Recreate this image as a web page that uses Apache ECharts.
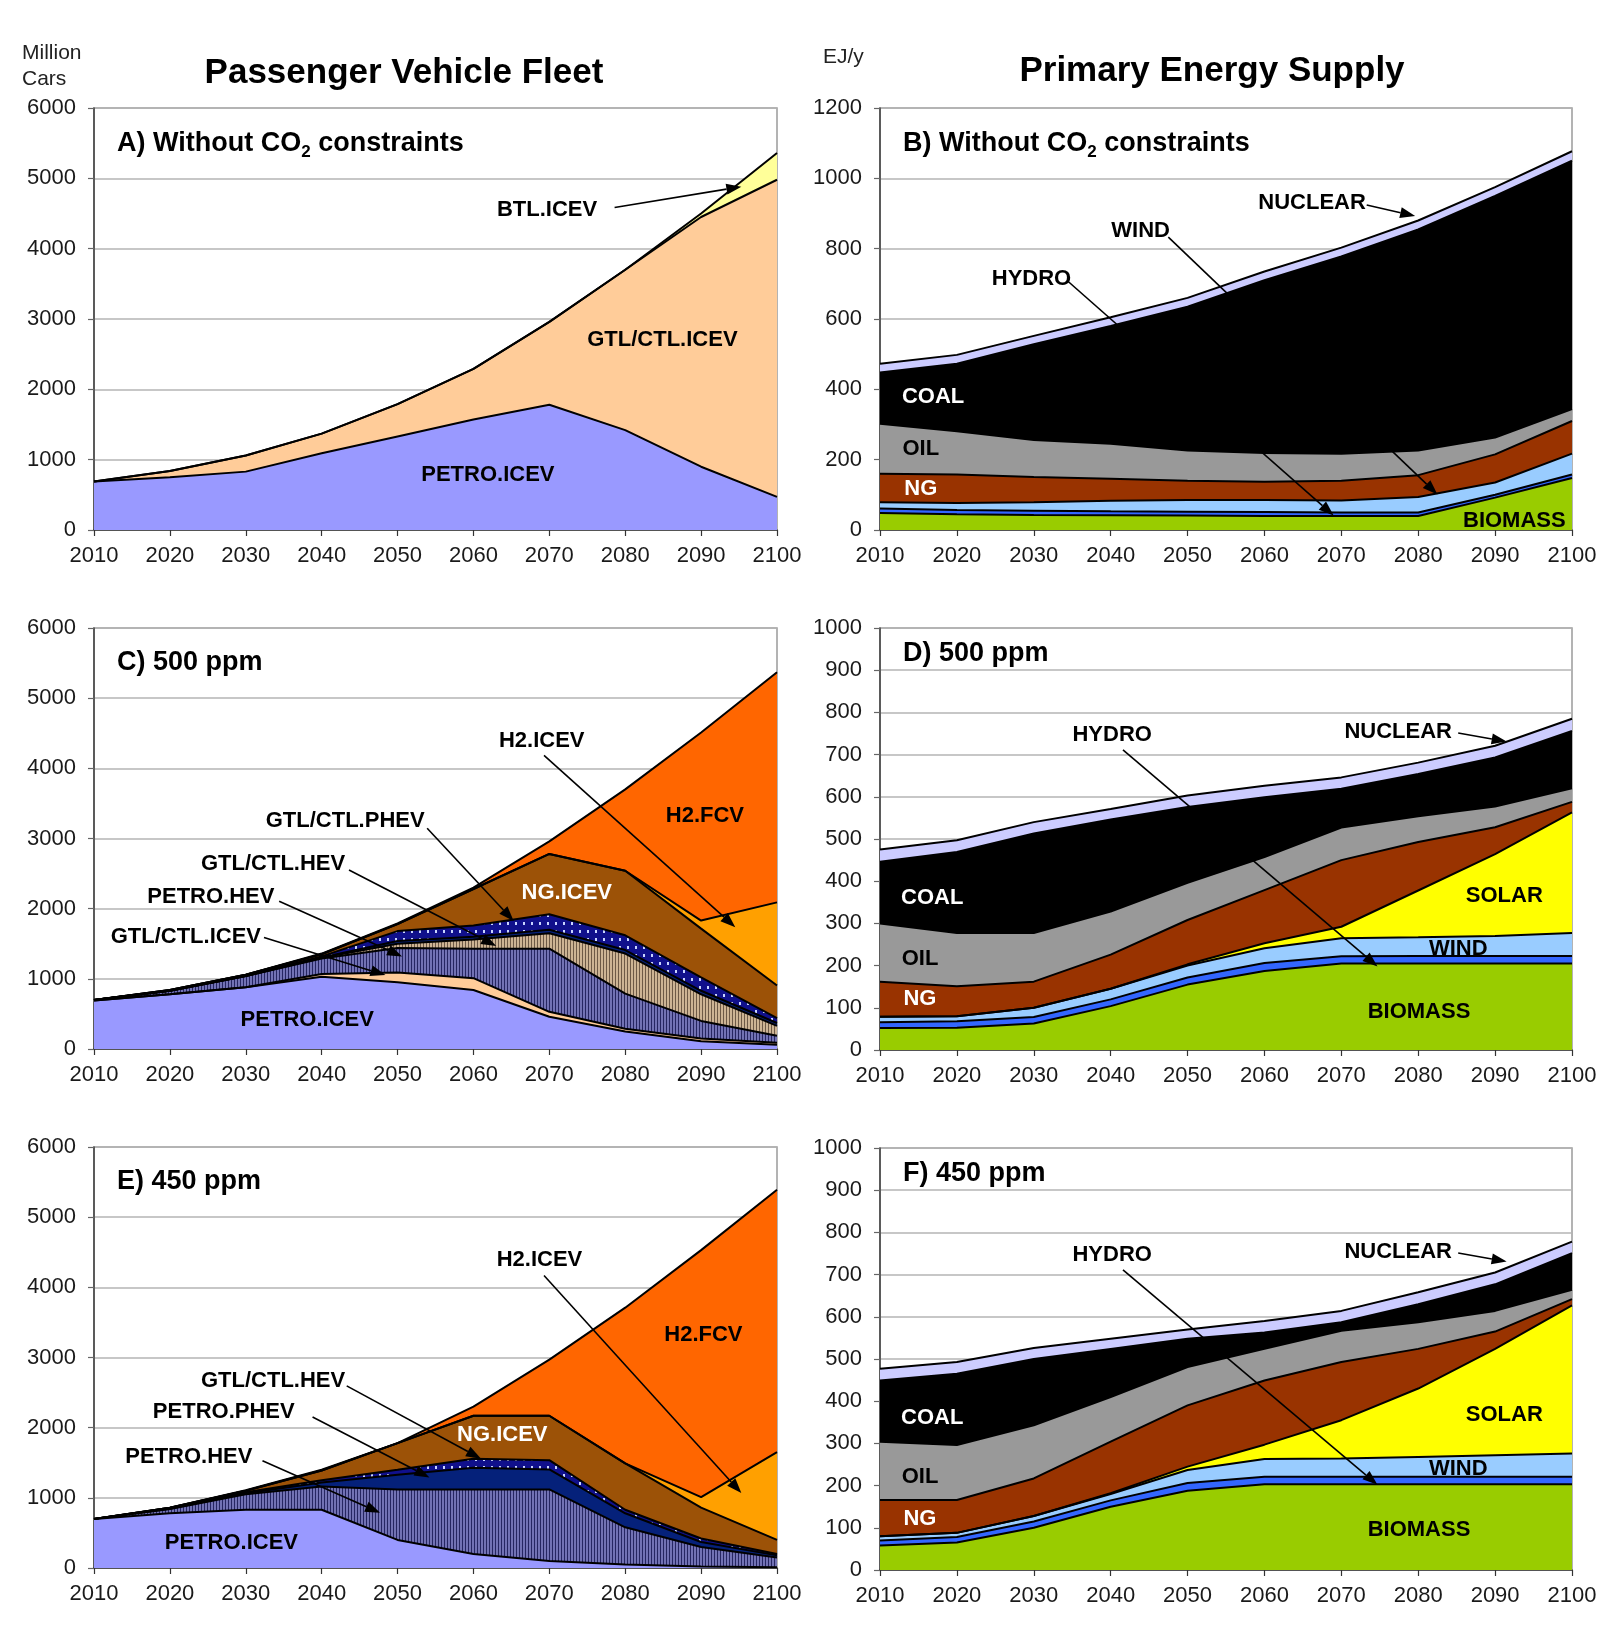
<!DOCTYPE html>
<html><head><meta charset="utf-8">
<script src="https://cdn.jsdelivr.net/npm/echarts/dist/echarts.min.js"></script>
<style>html,body{margin:0;padding:0;background:#fff}#c{width:1622px;height:1639px}</style>
</head><body><div id="c"></div>
<script>
// ---------- DATA ----------
const years = [2010, 2020, 2030, 2040, 2050, 2060, 2070, 2080, 2090, 2100];

// A) Passenger vehicle fleet, without CO2 constraints (million cars)
const A_petroICEV = [690, 750, 830, 1090, 1330, 1570, 1780, 1420, 900, 470];
const A_gtlICEV   = [0, 90, 230, 280, 460, 720, 1180, 2280, 3550, 4510];
const A_btlICEV   = [0, 0, 0, 0, 0, 0, 0, 0, 50, 380];

// B) Primary energy supply, without CO2 constraints (EJ/y)
const B_biomass = [48, 45, 43, 42, 41, 40, 40, 40, 92, 148];
const B_hydro   = [13, 12, 12, 11, 11, 11, 10, 10, 8, 10];
const B_wind    = [18, 20, 24, 30, 33, 34, 34, 44, 35, 59];
const B_ng      = [81, 81, 72, 63, 55, 52, 56, 62, 80, 93];
const B_oil     = [142, 123, 105, 99, 86, 82, 77, 70, 48, 34];
const B_coal    = [146, 192, 272, 335, 409, 491, 561, 629, 687, 706];
const B_nuclear = [25, 25, 24, 25, 25, 25, 25, 25, 25, 27];

// C) Passenger vehicle fleet, 500 ppm
const C_petroICEV = [690, 780, 880, 1030, 950, 840, 460, 250, 110, 60];
const C_gtlICEV   = [0, 0, 0, 40, 140, 170, 70, 40, 40, 30];
const C_petroHEV  = [10, 50, 160, 220, 350, 420, 900, 500, 250, 100];
const C_gtlHEV    = [0, 0, 0, 10, 60, 130, 220, 570, 380, 140];
const C_petroPHEV = [0, 0, 0, 5, 40, 40, 50, 50, 50, 40];
const C_gtlPHEV   = [0, 0, 5, 15, 140, 160, 220, 210, 190, 70];
const C_ngICEV    = [0, 10, 15, 30, 100, 520, 860, 920, 695, 465];
const C_h2ICEV    = [0, 0, 0, 0, 0, 0, 0, 0, 115, 1185];
const C_h2FCV     = [0, 0, 0, 10, 10, 20, 180, 1160, 2680, 3280];

// D) Primary energy supply, 500 ppm
const D_biomass = [52, 53, 63, 104, 155, 187, 205, 205, 205, 205];
const D_hydro   = [14, 15, 15, 16, 17, 19, 17, 18, 18, 18];
const D_wind    = [13, 12, 22, 25, 28, 35, 43, 44, 47, 54];
const D_solar   = [0, 0, 0, 0, 3, 12, 27, 111, 194, 286];
const D_ng      = [83, 71, 62, 81, 105, 126, 158, 115, 64, 25];
const D_oil     = [138, 126, 115, 102, 88, 78, 77, 61, 49, 32];
const D_coal    = [146, 192, 236, 218, 180, 142, 92, 100, 116, 136];
const D_nuclear = [29, 28, 27, 25, 27, 27, 27, 27, 28, 29];

// E) Passenger vehicle fleet, 450 ppm
const E_petroICEV = [700, 780, 830, 830, 400, 200, 100, 50, 20, 10];
const E_petroHEV  = [0, 60, 220, 330, 720, 920, 1020, 530, 280, 140];
const E_petroPHEV = [0, 5, 15, 60, 210, 309, 285, 200, 70, 30];
const E_gtlHEV    = [0, 10, 15, 30, 70, 127, 132, 50, 50, 20];
const E_ngICEV    = [0, 5, 20, 140, 380, 614, 633, 660, 440, 200];
const E_h2ICEV    = [0, 0, 0, 0, 0, 0, 0, 0, 150, 1250];
const E_h2FCV     = [0, 0, 10, 10, 0, 130, 800, 2220, 3520, 3740];

// F) Primary energy supply, 450 ppm
const F_biomass = [58, 65, 100, 150, 188, 203, 203, 203, 203, 203];
const F_hydro   = [12, 13, 15, 15, 18, 18, 18, 18, 18, 18];
const F_wind    = [10, 10, 13, 15, 31, 42, 43, 47, 51, 55];
const F_solar   = [0, 0, 0, 2, 8, 34, 91, 162, 252, 351];
const F_ng      = [86, 78, 89, 122, 145, 152, 138, 94, 41, 15];
const F_oil     = [138, 130, 126, 106, 91, 75, 74, 63, 49, 22];
const F_coal    = [145, 169, 157, 114, 67, 39, 20, 43, 63, 87];
const F_nuclear = [28, 28, 26, 24, 22, 27, 27, 28, 28, 27];

// Annotations (positions in data units: [year, value])
const annotations = [
  {g:0, t:'BTL.ICEV', at:[2069.7,4555], from:[2078.6,4585], to:[2095.3,4881]},
  {g:0, t:'GTL/CTL.ICEV', at:[2084.9,2700]},
  {g:0, t:'PETRO.ICEV', at:[2061.9,786]},

  {g:1, t:'NUCLEAR', at:[2066.2,930], from:[2073.3,924], to:[2079.6,893]},
  {g:1, t:'WIND', at:[2043.9,850], from:[2047.5,833], to:[2082.5,101]},
  {g:1, t:'HYDRO', at:[2029.7,714], from:[2034.4,708], to:[2069,41]},
  {g:1, t:'COAL', at:[2016.9,379], c:'#fff'},
  {g:1, t:'OIL', at:[2015.3,231]},
  {g:1, t:'NG', at:[2015.3,118], c:'#fff'},
  {g:1, t:'BIOMASS', at:[2092.5,27]},

  {g:2, t:'H2.ICEV', at:[2069,4392], from:[2069.3,4184], to:[2094.5,1736]},
  {g:2, t:'H2.FCV', at:[2090.5,3323]},
  {g:2, t:'GTL/CTL.PHEV', at:[2043.1,3249], from:[2053.9,3145], to:[2065.3,1825]},
  {g:2, t:'GTL/CTL.HEV', at:[2033.6,2641], from:[2043.6,2552], to:[2063,1469]},
  {g:2, t:'PETRO.HEV', at:[2025.4,2166], from:[2034.4,2107], to:[2050.6,1320]},
  {g:2, t:'GTL/CTL.ICEV', at:[2022.1,1602], from:[2032.4,1588], to:[2048.4,1053]},
  {g:2, t:'NG.ICEV', at:[2072.3,2226], c:'#fff'},
  {g:2, t:'PETRO.ICEV', at:[2038.1,415]},

  {g:3, t:'HYDRO', at:[2040.2,746], from:[2041.6,711], to:[2074.7,198]},
  {g:3, t:'NUCLEAR', at:[2077.4,753], from:[2085.2,751], to:[2091.5,731]},
  {g:3, t:'COAL', at:[2016.8,360], c:'#fff'},
  {g:3, t:'OIL', at:[2015.2,215]},
  {g:3, t:'NG', at:[2015.2,121], c:'#fff'},
  {g:3, t:'SOLAR', at:[2091.2,365]},
  {g:3, t:'WIND', at:[2085.2,240]},
  {g:3, t:'BIOMASS', at:[2080.1,91]},

  {g:4, t:'H2.ICEV', at:[2068.7,4392], from:[2069.3,4169], to:[2095.3,1068]},
  {g:4, t:'H2.FCV', at:[2090.3,3323]},
  {g:4, t:'GTL/CTL.HEV', at:[2033.6,2671], from:[2043.3,2596], to:[2061,1558]},
  {g:4, t:'PETRO.PHEV', at:[2027.1,2226], from:[2038.8,2151], to:[2054.2,1291]},
  {g:4, t:'PETRO.HEV', at:[2022.5,1588], from:[2032.2,1528], to:[2047.7,786]},
  {g:4, t:'NG.ICEV', at:[2063.8,1899], c:'#fff'},
  {g:4, t:'PETRO.ICEV', at:[2028.1,356]},

  {g:5, t:'HYDRO', at:[2040.2,746], from:[2041.6,711], to:[2074.7,202]},
  {g:5, t:'NUCLEAR', at:[2077.4,753], from:[2085.2,751], to:[2091.5,731]},
  {g:5, t:'COAL', at:[2016.8,360], c:'#fff'},
  {g:5, t:'OIL', at:[2015.2,220]},
  {g:5, t:'NG', at:[2015.2,121], c:'#fff'},
  {g:5, t:'SOLAR', at:[2091.2,368]},
  {g:5, t:'WIND', at:[2085.2,240]},
  {g:5, t:'BIOMASS', at:[2080.1,94]}
];

// ---------- STYLE HELPERS ----------
function pattern(w, h, draw) {
  const cv = document.createElement('canvas');
  cv.width = w; cv.height = h;
  draw(cv.getContext('2d'));
  return {image: cv, repeat: 'repeat'};
}
const hatchPurple = pattern(3, 8, ctx => {
  ctx.fillStyle = '#7272b4'; ctx.fillRect(0, 0, 3, 8);
  ctx.fillStyle = '#262662'; ctx.fillRect(0, 0, 1, 8);
});
const hatchTan = pattern(3, 8, ctx => {
  ctx.fillStyle = '#cdb494'; ctx.fillRect(0, 0, 3, 8);
  ctx.fillStyle = '#6e5a46'; ctx.fillRect(0, 0, 1, 8);
});
const dotsBlue = pattern(8, 8, ctx => {
  ctx.fillStyle = '#10108c'; ctx.fillRect(0, 0, 8, 8);
  ctx.fillStyle = '#c8d4ff'; ctx.fillRect(3, 2, 2, 3);
});

const COL = {
  petroICEV:'#9999ff', gtlICEV:'#ffcc99', btlICEV:'#ffff99',
  petroPHEV:'#05217a', ngICEV:'#9c5207', h2ICEV:'#ffa000', h2FCV:'#ff6600',
  biomass:'#99cc00', hydro:'#3366ff', wind:'#99ccff', solar:'#ffff00',
  ng:'#993300', oil:'#999999', coal:'#000000', nuclear:'#ccccff'
};

const FONT = '"Liberation Sans", Arial, Helvetica, sans-serif';

function cumulative(list) {
  const out = [];
  let acc = years.map(() => 0);
  list.forEach(a => { acc = acc.map((v, i) => v + a[i]); out.push(acc.slice()); });
  return out;
}
// layers bottom -> top; draw top first so lower layers paint over
function panelSeries(g, layers) {
  const tops = cumulative(layers.map(l => l.data));
  const s = [];
  for (let k = layers.length - 1; k >= 0; k--) {
    s.push({
      type: 'line', name: layers[k].name, xAxisIndex: g, yAxisIndex: g,
      data: years.map((y, i) => [y, tops[k][i]]),
      symbol: 'none', showSymbol: false, silent: true,
      lineStyle: {color: '#000', width: 2},
      areaStyle: {color: layers[k].color, opacity: 1, origin: 'start'},
      z: 2
    });
  }
  return s;
}

// ---------- LAYOUT ----------
const grids = [
  {left: 94,  top: 108,  width: 683, height: 422},
  {left: 880, top: 108,  width: 692, height: 422},
  {left: 94,  top: 628,  width: 683, height: 421},
  {left: 880, top: 628,  width: 692, height: 422},
  {left: 94,  top: 1147, width: 683, height: 421},
  {left: 880, top: 1148, width: 692, height: 422}
];
const yRanges = [[6000,1000],[1200,200],[6000,1000],[1000,100],[6000,1000],[1000,100]];
const plain = v => String(v);

const option = {
  animation: false,
  backgroundColor: '#fff',
  grid: grids.map(g => Object.assign({show: true, borderColor: '#9a9a9a', borderWidth: 1.5,
    containLabel: false, outerBoundsMode: 'none'}, g)),
  xAxis: grids.map((g, i) => ({
    type: 'value', gridIndex: i, min: 2010, max: 2100, interval: 10,
    axisLine: {show: true, onZero: false, lineStyle: {color: '#333', width: 1.6}},
    axisTick: {show: true, length: 6, lineStyle: {color: '#333', width: 1.2}},
    axisLabel: {fontSize: 22, color: '#1a1a1a', margin: 15, fontFamily: FONT, formatter: plain},
    splitLine: {show: false}
  })),
  yAxis: grids.map((g, i) => ({
    type: 'value', gridIndex: i, min: 0, max: yRanges[i][0], interval: yRanges[i][1],
    axisLine: {show: true, onZero: false, lineStyle: {color: '#444', width: 1.6}},
    axisTick: {show: true, length: 6, lineStyle: {color: '#666', width: 1.2}},
    axisLabel: {fontSize: 22, color: '#1a1a1a', margin: 18, fontFamily: FONT, formatter: plain},
    splitLine: {show: true, lineStyle: {color: '#b4b4b4', width: 1.5}}
  })),
  series: [].concat(
    panelSeries(0, [
      {name:'PETRO.ICEV', data:A_petroICEV, color:COL.petroICEV},
      {name:'GTL/CTL.ICEV', data:A_gtlICEV, color:COL.gtlICEV},
      {name:'BTL.ICEV', data:A_btlICEV, color:COL.btlICEV}
    ]),
    panelSeries(1, [
      {name:'BIOMASS', data:B_biomass, color:COL.biomass},
      {name:'HYDRO', data:B_hydro, color:COL.hydro},
      {name:'WIND', data:B_wind, color:COL.wind},
      {name:'NG', data:B_ng, color:COL.ng},
      {name:'OIL', data:B_oil, color:COL.oil},
      {name:'COAL', data:B_coal, color:COL.coal},
      {name:'NUCLEAR', data:B_nuclear, color:COL.nuclear}
    ]),
    panelSeries(2, [
      {name:'PETRO.ICEV', data:C_petroICEV, color:COL.petroICEV},
      {name:'GTL/CTL.ICEV', data:C_gtlICEV, color:COL.gtlICEV},
      {name:'PETRO.HEV', data:C_petroHEV, color:hatchPurple},
      {name:'GTL/CTL.HEV', data:C_gtlHEV, color:hatchTan},
      {name:'PETRO.PHEV', data:C_petroPHEV, color:COL.petroPHEV},
      {name:'GTL/CTL.PHEV', data:C_gtlPHEV, color:dotsBlue},
      {name:'NG.ICEV', data:C_ngICEV, color:COL.ngICEV},
      {name:'H2.ICEV', data:C_h2ICEV, color:COL.h2ICEV},
      {name:'H2.FCV', data:C_h2FCV, color:COL.h2FCV}
    ]),
    panelSeries(3, [
      {name:'BIOMASS', data:D_biomass, color:COL.biomass},
      {name:'HYDRO', data:D_hydro, color:COL.hydro},
      {name:'WIND', data:D_wind, color:COL.wind},
      {name:'SOLAR', data:D_solar, color:COL.solar},
      {name:'NG', data:D_ng, color:COL.ng},
      {name:'OIL', data:D_oil, color:COL.oil},
      {name:'COAL', data:D_coal, color:COL.coal},
      {name:'NUCLEAR', data:D_nuclear, color:COL.nuclear}
    ]),
    panelSeries(4, [
      {name:'PETRO.ICEV', data:E_petroICEV, color:COL.petroICEV},
      {name:'PETRO.HEV', data:E_petroHEV, color:hatchPurple},
      {name:'PETRO.PHEV', data:E_petroPHEV, color:COL.petroPHEV},
      {name:'GTL/CTL.HEV', data:E_gtlHEV, color:dotsBlue},
      {name:'NG.ICEV', data:E_ngICEV, color:COL.ngICEV},
      {name:'H2.ICEV', data:E_h2ICEV, color:COL.h2ICEV},
      {name:'H2.FCV', data:E_h2FCV, color:COL.h2FCV}
    ]),
    panelSeries(5, [
      {name:'BIOMASS', data:F_biomass, color:COL.biomass},
      {name:'HYDRO', data:F_hydro, color:COL.hydro},
      {name:'WIND', data:F_wind, color:COL.wind},
      {name:'SOLAR', data:F_solar, color:COL.solar},
      {name:'NG', data:F_ng, color:COL.ng},
      {name:'OIL', data:F_oil, color:COL.oil},
      {name:'COAL', data:F_coal, color:COL.coal},
      {name:'NUCLEAR', data:F_nuclear, color:COL.nuclear}
    ])
  )
};

const chart = echarts.init(document.getElementById('c'), null, {renderer: 'canvas', width: 1622, height: 1639});
chart.setOption(option);

// ---------- TEXT & ANNOTATIONS ----------
function txt(x, y, text, size, weight, align, fill) {
  return {type: 'text', x: x, y: y, z: 100, silent: true,
    style: {text: text, fill: fill || '#000', fontSize: size, fontWeight: weight || 'normal',
      fontFamily: FONT, align: align || 'left', verticalAlign: 'middle',
      textAlign: align || 'left', textVerticalAlign: 'middle'}};
}
const graphics = [];
graphics.push(txt(22, 53, 'Million', 21, 'normal', 'left', '#222'));
graphics.push(txt(22, 79, 'Cars', 21, 'normal', 'left', '#222'));
graphics.push(txt(823, 57, 'EJ/y', 21, 'normal', 'left', '#222'));
graphics.push(txt(404, 73, 'Passenger Vehicle Fleet', 35, 'bold', 'center'));
graphics.push(txt(1212, 71, 'Primary Energy Supply', 35, 'bold', 'center'));

// panel labels; CO2 with a real subscript via rich text
const richStyle = {
  a: {fontSize: 27, fontWeight: 'bold', fontFamily: FONT, fill: '#000', lineHeight: 34},
  s: {fontSize: 17, fontWeight: 'bold', fontFamily: FONT, fill: '#000', lineHeight: 17, verticalAlign: 'bottom'}
};
const panelTitles = ['{a|A) Without CO}{s|2}{a| constraints}', '{a|B) Without CO}{s|2}{a| constraints}',
  '{a|C) 500 ppm}', '{a|D) 500 ppm}', '{a|E) 450 ppm}', '{a|F) 450 ppm}'];
const titleDy = [36, 36, 35, 26, 35, 26];
panelTitles.forEach((t, i) => {
  graphics.push({type: 'text', x: grids[i].left + 23, y: grids[i].top + titleDy[i], z: 100, silent: true,
    style: {text: t, rich: richStyle, fontFamily: FONT, align: 'left', verticalAlign: 'middle',
      textAlign: 'left', textVerticalAlign: 'middle'}});
});

annotations.forEach(a => {
  const p = chart.convertToPixel({gridIndex: a.g}, a.at);
  graphics.push(txt(p[0], p[1], a.t, 22, 'bold', 'center', a.c || '#000'));
  if (a.from) {
    const f = chart.convertToPixel({gridIndex: a.g}, a.from);
    const t = chart.convertToPixel({gridIndex: a.g}, a.to);
    const dx = t[0] - f[0], dy = t[1] - f[1];
    const len = Math.sqrt(dx * dx + dy * dy);
    const ux = dx / len, uy = dy / len;
    const L = 15, W = 5.5;
    const bx = t[0] - ux * L, by = t[1] - uy * L;
    graphics.push({type: 'line', z: 99, silent: true,
      shape: {x1: f[0], y1: f[1], x2: bx, y2: by},
      style: {stroke: '#000', lineWidth: 1.6}});
    graphics.push({type: 'polygon', z: 99, silent: true,
      shape: {points: [[t[0], t[1]], [bx - uy * W, by + ux * W], [bx + uy * W, by - ux * W]]},
      style: {fill: '#000'}});
  }
});
chart.setOption({graphic: graphics});
</script>
</body></html>
